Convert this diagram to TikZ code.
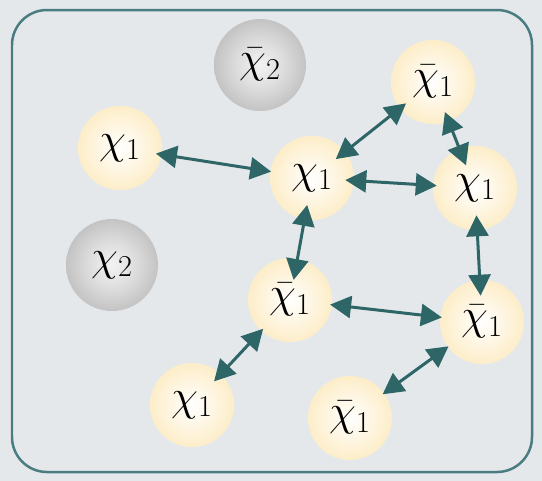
\documentclass[tikz,border=0pt]{standalone}
\usepackage{tikz}
\usetikzlibrary{arrows.meta}

\definecolor{bgcol}{HTML}{E5E8EB}
\definecolor{framecol}{HTML}{4A7C82}
\definecolor{linkcol}{HTML}{2E6668}
\definecolor{ballcol}{HTML}{FCE3A8}
\definecolor{greycol}{HTML}{A2A2A2}

\pgfdeclareradialshading{yellowball}{\pgfpoint{0bp}{0bp}}{%
  color(0bp)=(white); color(10bp)=(ballcol!25); color(30bp)=(ballcol!75);
  color(50bp)=(ballcol); color(100bp)=(ballcol)}
\pgfdeclareradialshading{greyball}{\pgfpoint{0bp}{0bp}}{%
  color(0bp)=(white!95!black); color(12bp)=(greycol!35); color(32bp)=(greycol!80);
  color(50bp)=(greycol); color(100bp)=(greycol)}

\begin{document}
\begin{tikzpicture}[
        x=0.02cm, y=-0.02cm,
        ball/.style={
            circle,
            minimum size=1.68cm,
            inner sep=0pt,
            font=\fontsize{25}{29}\selectfont
        },
        light/.style={ball, shading=yellowball},
        heavy/.style={ball, shading=greyball, minimum size=1.84cm},
        link/.style={
            {Triangle[length=0.42cm,width=0.44cm]}-{Triangle[length=0.42cm,width=0.44cm]},
            line width=0.06cm,
            draw=linkcol
        }
    ]

    % Background and frame
    \fill[bgcol] (0,0) rectangle (542,481);
    \draw[framecol, line width=0.05cm, rounded corners=0.7cm] (12,10) rectangle (532,472);

    % Heavy particles
    \node[heavy] (chibartwo) at (260,65) {$\bar{\chi}_2$};
    \node[heavy] (chitwo) at (112,265) {$\chi_2$};

    % Light particles
    \node[light] (chia) at (120,148) {$\chi_1$};
    \node[light] (chib) at (312,178) {$\chi_1$};
    \node[light] (chibara) at (433,82) {$\bar{\chi}_1$};
    \node[light] (chic) at (475,188) {$\chi_1$};
    \node[light] (chibarb) at (290,300) {$\bar{\chi}_1$};
    \node[light] (chibarc) at (482,322) {$\bar{\chi}_1$};
    \node[light] (chid) at (192,405) {$\chi_1$};
    \node[light] (chibard) at (350,418) {$\bar{\chi}_1$};

    % Interactions (tips reach into the balls)
    \draw[link, shorten <=-0.12cm, shorten >=-0.02cm] (chia) -- (chib);
    \draw[link, shorten <=-0.24cm, shorten >=-0.16cm] (chib) -- (chibara);
    \draw[link, shorten <=-0.2cm, shorten >=-0.36cm] (chibara) -- (chic);
    \draw[link, shorten <=-0.18cm, shorten >=-0.08cm] (chib) -- (chic);
    \draw[link, shorten <=-0.3cm, shorten >=-0.44cm] (chib) -- (chibarb);
    \draw[link, shorten <=-0.3cm, shorten >=-0.32cm] (chic) -- (chibarc);
    \draw[link, shorten <=-0.04cm, shorten >=-0.04cm] (chibarb) -- (chibarc);
    \draw[link, shorten <=-0.06cm, shorten >=-0.2cm] (chibarb) -- (chid);
    \draw[link, shorten <=-0.02cm, shorten >=-0.04cm] (chibarc) -- (chibard);

    \useasboundingbox (0,0) rectangle (542,481);
\end{tikzpicture}
\end{document}
